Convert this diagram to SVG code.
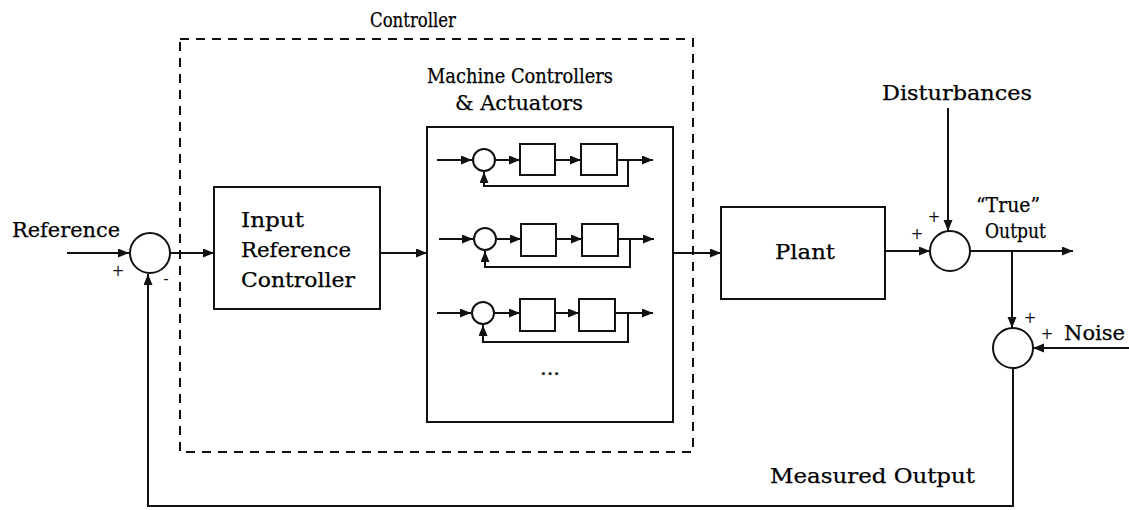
<svg xmlns="http://www.w3.org/2000/svg" width="1129" height="510" viewBox="0 0 1129 510">
<defs>
<marker id="ah" markerWidth="12" markerHeight="10" refX="11" refY="4.5" orient="auto" markerUnits="userSpaceOnUse"><path d="M0,0 L11,4.5 L0,9 z" fill="#111"/></marker>
<style>
.ln{fill:none;stroke:#111;stroke-width:2}
.bx{fill:#fff;stroke:#111;stroke-width:2}
.sj{fill:#fff;stroke:#111;stroke-width:2}
.t{font-family:"DejaVu Serif","Liberation Serif",serif;font-size:21px;fill:#000;stroke:#000;stroke-width:0.25}
.s{font-family:"DejaVu Sans","Liberation Sans",sans-serif;font-size:15px;fill:#111}
.dash{fill:none;stroke:#111;stroke-width:2;stroke-dasharray:9 7}
</style>
</defs>
<rect width="1129" height="510" fill="#fff"/>

<g id="controller-boundary">
<rect class="dash" x="180" y="39" width="513" height="413"/>
<text class="t" x="370" y="27" font-size="19" textLength="86" lengthAdjust="spacingAndGlyphs">Controller</text>
</g>

<g id="connectors">
<path class="ln" d="M67,253 H129" marker-end="url(#ah)"/>
<path class="ln" d="M170,253 H214" marker-end="url(#ah)"/>
<path class="ln" d="M380,253 H427" marker-end="url(#ah)"/>
<path class="ln" d="M673,253 H721" marker-end="url(#ah)"/>
<path class="ln" d="M885,251 H930" marker-end="url(#ah)"/>
<path class="ln" d="M948,108 V231" marker-end="url(#ah)"/>
<path class="ln" d="M970,251 H1073" marker-end="url(#ah)"/>
<path class="ln" d="M1012,251 V328" marker-end="url(#ah)"/>
<path class="ln" d="M1129,348 H1033" marker-end="url(#ah)"/>
<path class="ln" d="M1013,368 V506 H148 V274" marker-end="url(#ah)"/>
</g>

<g id="sum-reference">
<circle class="sj" cx="150" cy="253" r="20"/>
<text class="s" x="118" y="276" text-anchor="middle">+</text>
<text class="s" x="166" y="284" text-anchor="middle" font-size="10">-</text>
</g>
<text class="t" x="12" y="237" textLength="108" lengthAdjust="spacingAndGlyphs" fill="#333" stroke="none">Reference</text>

<g id="input-reference-controller">
<rect class="bx" x="214" y="187" width="166" height="122"/>
<text class="t" x="241" y="227" textLength="63" lengthAdjust="spacingAndGlyphs">Input</text>
<text class="t" x="241" y="257" textLength="110" lengthAdjust="spacingAndGlyphs">Reference</text>
<text class="t" x="241" y="287" textLength="114" lengthAdjust="spacingAndGlyphs">Controller</text>
</g>

<g id="machine-controllers">
<text class="t" x="427" y="83" textLength="186" lengthAdjust="spacingAndGlyphs">Machine Controllers</text>
<text class="t" x="455" y="110" textLength="128" lengthAdjust="spacingAndGlyphs">&amp; Actuators</text>
<rect class="bx" x="427" y="127" width="246" height="295"/>
<g id="loop1">
<path class="ln" d="M437,160 H472" marker-end="url(#ah)"/>
<circle class="sj" cx="484" cy="160" r="11"/>
<path class="ln" d="M495,160 H520" marker-end="url(#ah)"/>
<rect class="bx" x="520" y="144" width="35" height="31"/>
<path class="ln" d="M555,160 H581" marker-end="url(#ah)"/>
<rect class="bx" x="581" y="144" width="36" height="31"/>
<path class="ln" d="M617,160 H653" marker-end="url(#ah)"/>
<path class="ln" d="M628,160 V186 H484 V172" marker-end="url(#ah)"/>
</g>
<g id="loop2">
<path class="ln" d="M439,239 H473" marker-end="url(#ah)"/>
<circle class="sj" cx="485" cy="239" r="11"/>
<path class="ln" d="M496,239 H521" marker-end="url(#ah)"/>
<rect class="bx" x="521" y="224" width="35" height="32"/>
<path class="ln" d="M556,239 H582" marker-end="url(#ah)"/>
<rect class="bx" x="582" y="224" width="36" height="32"/>
<path class="ln" d="M618,239 H654" marker-end="url(#ah)"/>
<path class="ln" d="M630,239 V267 H485 V251" marker-end="url(#ah)"/>
</g>
<g id="loop3">
<path class="ln" d="M437,313 H471" marker-end="url(#ah)"/>
<circle class="sj" cx="483" cy="313" r="11"/>
<path class="ln" d="M494,313 H520" marker-end="url(#ah)"/>
<rect class="bx" x="520" y="299" width="35" height="32"/>
<path class="ln" d="M555,313 H579" marker-end="url(#ah)"/>
<rect class="bx" x="579" y="299" width="36" height="32"/>
<path class="ln" d="M615,313 H653" marker-end="url(#ah)"/>
<path class="ln" d="M628,313 V342 H483 V325" marker-end="url(#ah)"/>
</g>
<text class="t" x="550" y="375" text-anchor="middle" font-size="14" stroke="none">...</text>
</g>

<g id="plant">
<rect class="bx" x="721" y="207" width="164" height="92"/>
<text class="t" x="775" y="259" textLength="60" lengthAdjust="spacingAndGlyphs">Plant</text>
</g>

<g id="sum-disturbance">
<circle class="sj" cx="950" cy="251" r="20"/>
<text class="s" x="917" y="239" text-anchor="middle">+</text>
<text class="s" x="934" y="222" text-anchor="middle">+</text>
</g>
<text class="t" x="882" y="100" textLength="150" lengthAdjust="spacingAndGlyphs">Disturbances</text>
<text class="t" x="976" y="212" textLength="64" lengthAdjust="spacingAndGlyphs">“True”</text>
<text class="t" x="985" y="238" textLength="61" lengthAdjust="spacingAndGlyphs">Output</text>

<g id="sum-noise">
<circle class="sj" cx="1013" cy="348" r="20"/>
<text class="s" x="1030" y="323" text-anchor="middle">+</text>
</g>
<text class="s" x="1047" y="339" text-anchor="middle">+</text>
<text class="t" x="1064" y="340" textLength="61" lengthAdjust="spacingAndGlyphs">Noise</text>
<text class="t" x="770" y="483" textLength="205" lengthAdjust="spacingAndGlyphs">Measured Output</text>
</svg>
